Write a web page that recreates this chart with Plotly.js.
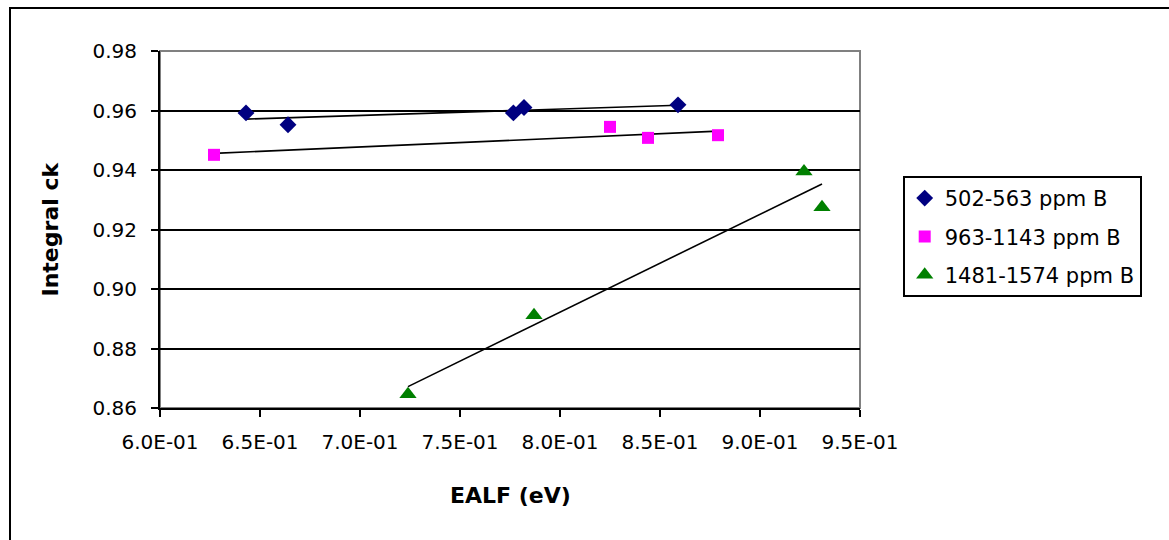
<!DOCTYPE html>
<html>
<head>
<meta charset="utf-8">
<script src="https://cdn.plot.ly/plotly-3.0.1.min.js"></script>
<style>
html,body{margin:0;padding:0;background:#fff;}
#chart{width:1169px;height:540px;position:absolute;left:0;top:0;}
#frame{position:absolute;left:9px;top:7px;width:1200px;height:600px;border:2px solid #000;pointer-events:none;}
</style>
</head>
<body>
<div id="chart"></div>
<div id="frame"></div>
<script>
// Data
var seriesNames = ["502-563 ppm B", "963-1143 ppm B", "1481-1574 ppm B"];
var x502 = [0.643, 0.664, 0.7767, 0.782, 0.859];
var y502 = [0.9592, 0.9552, 0.9592, 0.9610, 0.9619];
var x963 = [0.627, 0.825, 0.844, 0.879];
var y963 = [0.9451, 0.9545, 0.9508, 0.9517];
var x1481 = [0.724, 0.787, 0.922, 0.931];
var y1481 = [0.8646, 0.8912, 0.9395, 0.9275];
var xTickVals = [0.60, 0.65, 0.70, 0.75, 0.80, 0.85, 0.90, 0.95];
var xTickText = ["6.0E-01", "6.5E-01", "7.0E-01", "7.5E-01", "8.0E-01", "8.5E-01", "9.0E-01", "9.5E-01"];
var yTickVals = [0.86, 0.88, 0.90, 0.92, 0.94, 0.96, 0.98];
var yTickText = ["0.86", "0.88", "0.90", "0.92", "0.94", "0.96", "0.98"];

function linFit(xs, ys) {
  var n = xs.length, mx = 0, my = 0;
  for (var i = 0; i < n; i++) { mx += xs[i]; my += ys[i]; }
  mx /= n; my /= n;
  var sxy = 0, sxx = 0;
  for (var j = 0; j < n; j++) { sxy += (xs[j]-mx)*(ys[j]-my); sxx += (xs[j]-mx)*(xs[j]-mx); }
  var b = sxy / sxx, a = my - b*mx;
  var x0 = Math.min.apply(null, xs), x1 = Math.max.apply(null, xs);
  return {x: [x0, x1], y: [a + b*x0, a + b*x1]};
}

var FONT = "DejaVu Sans, Arial, sans-serif";
var sets = [
  {x: x502, y: y502, sym: "diamond", col: "#000080", size: 13},
  {x: x963, y: y963, sym: "square", col: "#FF00FF", size: 12},
  {x: x1481, y: y1481, sym: "triangle-up", col: "#008000", size: 15}
];
var traces = [];
sets.forEach(function(s, i) {
  var f = linFit(s.x, s.y);
  traces.push({x: f.x, y: f.y, mode: "lines", line: {color: "#000", width: 1.6},
    showlegend: false, hoverinfo: "skip", legendgroup: "g" + i});
});
sets.forEach(function(s, i) {
  traces.push({x: s.x, y: s.y, mode: "markers", name: seriesNames[i], legendgroup: "g" + i,
    marker: {symbol: s.sym, color: s.col, size: s.size, line: {width: 0}}});
});

var layout = {
  width: 1169, height: 540,
  margin: {l: 160, r: 309, t: 51, b: 132, pad: 0},
  paper_bgcolor: "#fff", plot_bgcolor: "#fff",
  font: {family: FONT, size: 20, color: "#000"},
  showlegend: true,
  legend: {x: 1.061, y: 0.65, xanchor: "left", yanchor: "top",
    bordercolor: "#000", borderwidth: 2, bgcolor: "#fff",
    font: {family: FONT, size: 21, color: "#000"},
    traceorder: "grouped", tracegroupgap: 8, itemwidth: 30},
  xaxis: {range: [0.6, 0.95], tickvals: xTickVals, ticktext: xTickText,
    showgrid: false, zeroline: false, showline: true, linecolor: "#000", linewidth: 2,
    ticks: "outside", ticklen: 7, tickwidth: 2, tickcolor: "#000", ticklabelstandoff: 8,
    tickfont: {family: FONT, size: 20}},
  yaxis: {range: [0.86, 0.98], tickvals: yTickVals, ticktext: yTickText,
    showgrid: true, gridcolor: "#000", gridwidth: 2, zeroline: false,
    showline: true, linecolor: "#000", linewidth: 2,
    ticks: "outside", ticklen: 7, tickwidth: 2, tickcolor: "#000", ticklabelstandoff: 10,
    tickfont: {family: FONT, size: 20}},
  shapes: [{type: "rect", xref: "paper", yref: "paper", x0: 0, x1: 1, y0: 0, y1: 1,
    line: {color: "#808080", width: 2}, layer: "below"}],
  annotations: [
    {text: "<b>EALF (eV)</b>", xref: "paper", yref: "paper", x: 0.5, y: 0, yshift: -87,
     xanchor: "center", yanchor: "middle", showarrow: false, font: {family: FONT, size: 22}},
    {text: "<b>Integral ck</b>", xref: "paper", yref: "paper", x: 0, y: 0.5, xshift: -110,
     xanchor: "center", yanchor: "middle", textangle: -90, showarrow: false,
     font: {family: FONT, size: 22}}
  ]
};

Plotly.newPlot("chart", traces, layout, {staticPlot: true, displayModeBar: false});
</script>
</body>
</html>
